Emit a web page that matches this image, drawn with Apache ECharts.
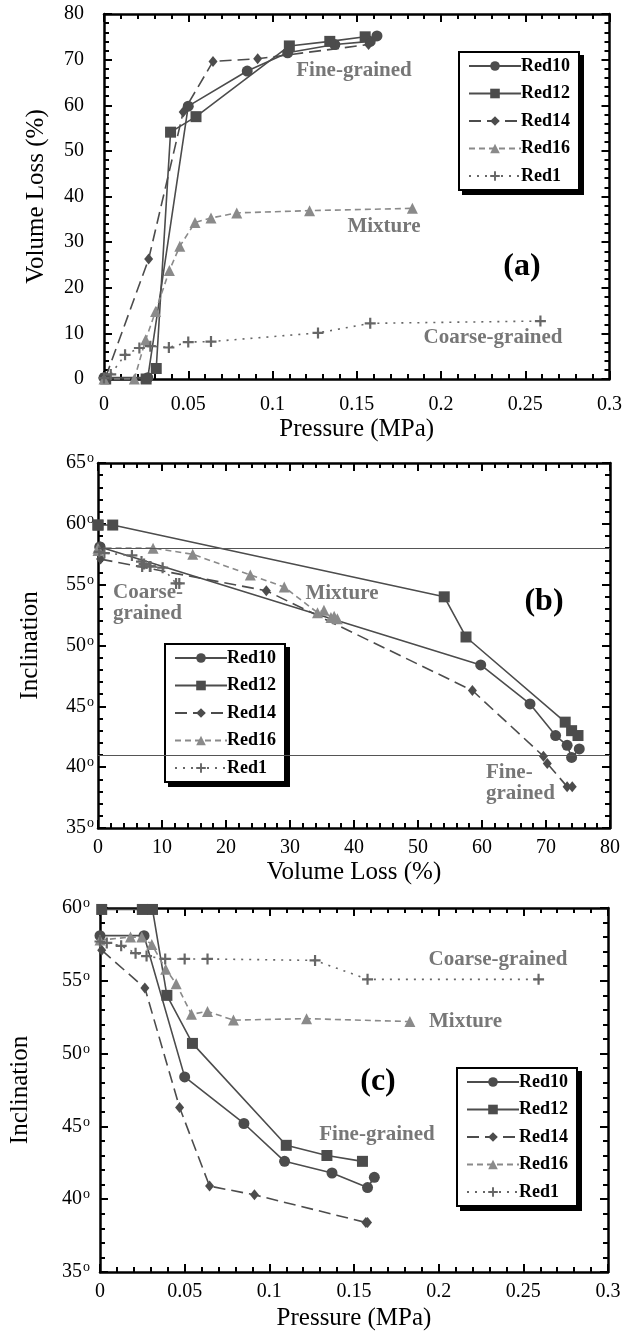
<!DOCTYPE html>
<html style="height: 100%">
<head>
  <meta charset="utf-8">
</head>
<body style="height: 100%; margin: 0; background: #fff">
  <div id="container" style="width: 625px; height: 1332px"></div>

  <script type="text/javascript" src="https://cdn.jsdelivr.net/npm/echarts@6.0.0/dist/echarts.min.js"></script>
  <script type="text/javascript">
    var seriesNames = ['Red10', 'Red12', 'Red14', 'Red16', 'Red1'];

    // pressure (MPa)
    var p10 = [0, 0.026, 0.050, 0.085, 0.109, 0.137, 0.158, 0.162];
    var p12 = [0.001, 0.025, 0.031, 0.0395, 0.0546, 0.110, 0.134, 0.155];
    var p14 = [0.001, 0.0265, 0.047, 0.0647, 0.0912, 0.157, 0.158];
    var p16 = [0, 0.018, 0.0247, 0.0306, 0.0388, 0.045, 0.054, 0.0635, 0.0788, 0.122, 0.183];
    var p1 = [0, 0.004, 0.0125, 0.021, 0.0275, 0.0385, 0.050, 0.0635, 0.127, 0.158, 0.259];

    // volume loss (%)
    var v10 = [0.3, 0.3, 59.8, 67.5, 71.5, 73.3, 74.0, 75.2];
    var v12 = [0, 0, 2.3, 54.1, 57.5, 73.0, 74.0, 75.0];
    var v14 = [0.4, 26.3, 58.5, 69.6, 70.2, 73.3, 74.1];
    var v16 = [0, 0, 8.6, 14.8, 23.8, 29.1, 34.3, 35.3, 36.4, 36.9, 37.4];
    var v1 = [0.2, 1.0, 5.3, 6.8, 7.2, 6.9, 8.1, 8.2, 10.1, 12.2, 12.7];

    // inclination (deg)
    var i10 = [58.1, 58.1, 48.4, 45.2, 42.6, 41.8, 40.8, 41.5];
    var i12 = [59.9, 59.9, 59.9, 54.0, 50.7, 43.7, 43.0, 42.6];
    var i14 = [57.1, 54.5, 46.3, 40.9, 40.3, 38.4, 38.4];
    var i16 = [57.8, 58.0, 58.0, 57.5, 55.8, 54.8, 52.7, 52.9, 52.3, 52.4, 52.2];
    var i1 = [57.7, 57.6, 57.4, 56.9, 56.7, 56.5, 56.5, 56.5, 56.4, 55.1, 55.1];

    var refLinesB = [58, 41];

    var pressures = [p10, p12, p14, p16, p1];
    var volumes = [v10, v12, v14, v16, v1];
    var inclinations = [i10, i12, i14, i16, i1];

    var serif = '"Liberation Serif", "Times New Roman", serif';
    var plusPath = 'path://M4,0L6,0L6,4L10,4L10,6L6,6L6,10L4,10L4,6L0,6L0,4L4,4Z';

    var looks = {
      Red10: { symbol: 'circle', size: 11, color: '#4c4c4c', line: 'solid' },
      Red12: { symbol: 'rect', size: 11, color: '#4c4c4c', line: 'solid' },
      Red14: { symbol: 'diamond', size: [9, 11], color: '#4c4c4c', line: [12, 6] },
      Red16: { symbol: 'triangle', size: 11, color: '#8a8a8a', line: [6, 4] },
      Red1: { symbol: plusPath, size: 11, color: '#666', line: [2, 6] }
    };

    function pairs(xs, ys) {
      return xs.map(function (x, k) { return [x, ys[k]]; });
    }

    function makeSeries(k, xs, ys, axis) {
      var name = seriesNames[k];
      var lk = looks[name];
      return {
        name: name,
        type: 'line',
        xAxisIndex: axis,
        yAxisIndex: axis,
        data: pairs(xs, ys),
        symbol: lk.symbol,
        symbolSize: lk.size,
        showAllSymbol: true,
        animation: false,
        itemStyle: { color: lk.color },
        lineStyle: { color: lk.color, width: 1.6, type: lk.line }
      };
    }

    function baseAxis(grid, min, max, interval) {
      return {
        type: 'value', gridIndex: grid, min: min, max: max, interval: interval,
        splitLine: { show: false },
        axisLine: { onZero: false, lineStyle: { color: '#000', width: 2.5 } },
        axisTick: { inside: true, length: 8, lineStyle: { color: '#000', width: 2 } },
        minorTick: { show: true, splitNumber: 5, length: 5, lineStyle: { color: '#000', width: 2 } }
      };
    }

    function xAxisPair(grid, min, max, interval, name, gap, margin) {
      var bottom = echarts.util.merge({
        position: 'bottom', name: name, nameLocation: 'middle', nameGap: gap,
        nameTextStyle: { fontFamily: serif, fontSize: 25, color: '#000' },
        axisLabel: { fontFamily: serif, fontSize: 20, color: '#000', margin: margin,
          showMinLabel: true, showMaxLabel: true }
      }, baseAxis(grid, min, max, interval), true);
      var top = echarts.util.merge({ position: 'top', axisLabel: { show: false } },
        baseAxis(grid, min, max, interval), true);
      return [bottom, top];
    }

    function yAxisPair(grid, min, max, interval, name, gap, margin, degrees) {
      var label = { fontFamily: serif, fontSize: 20, color: '#000', margin: margin,
        showMinLabel: true, showMaxLabel: true };
      if (degrees) {
        label.formatter = function (v) { return '{n|' + v + '}{s|o}'; };
        label.rich = {
          n: { fontFamily: serif, fontSize: 20, color: '#000' },
          s: { fontFamily: serif, fontSize: 14, color: '#000', verticalAlign: 'top', padding: [0, 0, 9, 1] }
        };
      }
      var left = echarts.util.merge({
        position: 'left', name: name, nameLocation: 'middle', nameGap: gap,
        nameTextStyle: { fontFamily: serif, fontSize: 25, color: '#000' },
        axisLabel: label
      }, baseAxis(grid, min, max, interval), true);
      var right = echarts.util.merge({ position: 'right', axisLabel: { show: false } },
        baseAxis(grid, min, max, interval), true);
      return [left, right];
    }

    function legendAt(left, top) {
      return {
        data: seriesNames,
        orient: 'vertical',
        left: left,
        top: top,
        itemWidth: 52,
        itemHeight: 12,
        itemGap: 9.5,
        padding: [5, 9, 5, 9],
        backgroundColor: '#fff',
        borderColor: '#000',
        borderWidth: 2,
        textStyle: { fontFamily: serif, fontWeight: 'bold', fontSize: 18, color: '#000', padding: [0, 0, 0, -5] }
      };
    }

    function note(id, text, x, y, opts) {
      opts = opts || {};
      return {
        type: 'text', id: id, x: x, y: y, z: 50,
        style: {
          text: text,
          font: (opts.font || 'bold 21px') + ' ' + serif,
          fill: opts.fill || '#777',
          align: opts.align || 'center',
          verticalAlign: 'middle',
          lineHeight: 21
        }
      };
    }

    var series = [];
    for (var k = 0; k < seriesNames.length; k++) {
      series.push(makeSeries(k, pressures[k], volumes[k], 0));
    }
    for (k = 0; k < seriesNames.length; k++) {
      series.push(makeSeries(k, volumes[k], inclinations[k], 2));
    }
    for (k = 0; k < seriesNames.length; k++) {
      series.push(makeSeries(k, pressures[k], inclinations[k], 4));
    }
    series[5].markLine = {
      silent: true,
      symbol: 'none',
      label: { show: false },
      lineStyle: { color: '#555', width: 1.2, type: 'solid' },
      data: refLinesB.map(function (v) { return { yAxis: v }; })
    };

    var xa = xAxisPair(0, 0, 0.3, 0.05, 'Pressure (MPa)', 38, 16);
    var ya = yAxisPair(0, 0, 80, 10, 'Volume Loss (%)', 55, 20, false);
    var xb = xAxisPair(1, 0, 80, 10, 'Volume Loss (%)', 32, 10);
    var yb = yAxisPair(1, 35, 65, 5, 'Inclination', 55, 4, true);
    var xc = xAxisPair(2, 0, 0.3, 0.05, 'Pressure (MPa)', 34, 10);
    var yc = yAxisPair(2, 35, 60, 5, 'Inclination', 67, 10, true);

    var dom = document.getElementById('container');
    var myChart = echarts.init(dom);

    var option = {
      backgroundColor: '#fff',
      animation: false,
      grid: [
        { left: 104, top: 14, width: 508, height: 365 },
        { left: 98, top: 463, width: 512, height: 365 },
        { left: 100, top: 908, width: 508, height: 365 }
      ],
      xAxis: [xa[0], xa[1], xb[0], xb[1], xc[0], xc[1]],
      yAxis: [ya[0], ya[1], yb[0], yb[1], yc[0], yc[1]],
      legend: [legendAt(459, 52), legendAt(165, 644), legendAt(457, 1068)],
      series: series,
      graphic: [
        note('t1', 'Fine-grained', 354, 71),
        note('t2', 'Mixture', 384, 227),
        note('t3', '(a)', 522, 267, { font: 'bold 32px', fill: '#000' }),
        note('t4', 'Coarse-grained', 493, 338),
        note('t5', 'Coarse-\ngrained', 113, 603, { align: 'left' }),
        note('t6', 'Mixture', 342, 594),
        note('t7', '(b)', 544, 602, { font: 'bold 32px', fill: '#000' }),
        note('t8', 'Fine-\ngrained', 486, 783, { align: 'left' }),
        note('t9', 'Coarse-grained', 498, 960),
        note('t10', 'Mixture', 429, 1022, { align: 'left' }),
        note('t11', '(c)', 378, 1082, { font: 'bold 32px', fill: '#000' }),
        note('t12', 'Fine-grained', 377, 1135)
      ]
    };

    if (option && typeof option === 'object') {
      myChart.setOption(option);
    }

    // hard black drop shadow behind each legend box
    var fallback = [[459, 52, 123, 136], [165, 644, 120, 136], [457, 1068, 121, 141]];
    var shadows = [];
    for (var j = 0; j < 3; j++) {
      var box = fallback[j];
      try {
        var lm = myChart.getModel().getComponent('legend', j);
        var g = myChart.getViewOfComponentModel(lm).group;
        var r = g.getBoundingRect();
        box = [g.x + r.x, g.y + r.y, r.width, r.height];
      } catch (e) {}
      shadows.push({
        type: 'rect', id: 'shadow' + j, z: 1,
        shape: { x: box[0] + 4, y: box[1] + 4, width: box[2], height: box[3] },
        style: { fill: '#000' }
      });
    }
    myChart.setOption({ graphic: shadows });
  </script>
</body>
</html>
